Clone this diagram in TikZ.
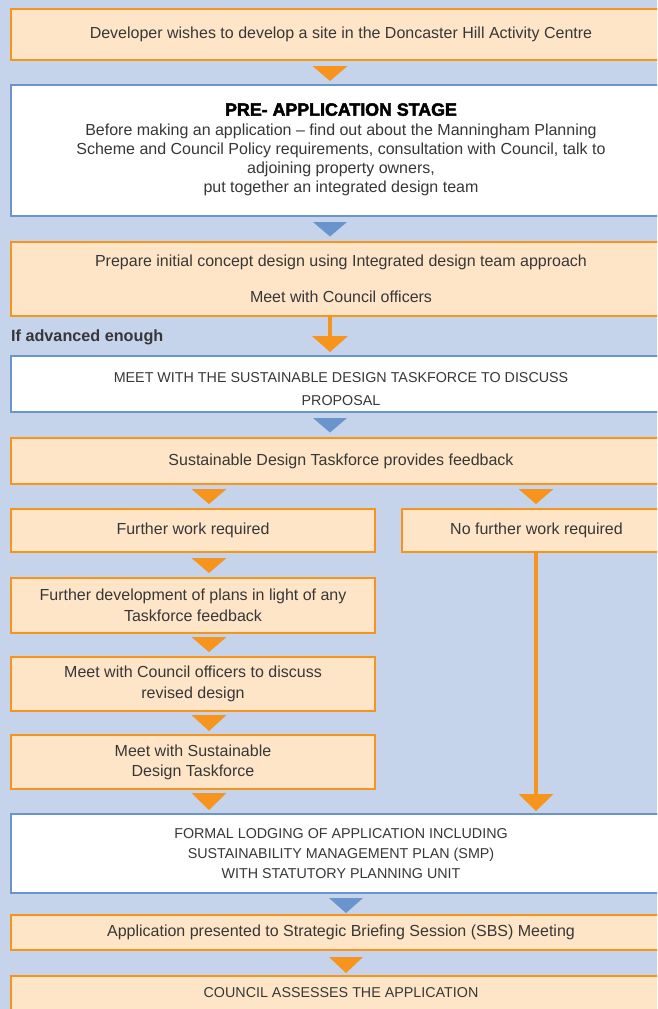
\documentclass[tikz,border=0pt]{standalone}
\usepackage{fontspec}
\setmainfont{Liberation Sans}
\newfontfamily\heavyfont{Liberation Sans}[FakeBold=2.5]
\usetikzlibrary{calc}
\definecolor{bgblue}{RGB}{197,211,235}
\definecolor{obord}{RGB}{247,148,29}
\definecolor{ofill}{RGB}{255,229,200}
\definecolor{bbord}{RGB}{106,149,204}
\definecolor{txt}{RGB}{55,55,55}
\begin{document}
\begin{tikzpicture}[x=1pt,y=-1pt,
  box/.style={draw, line width=2pt, anchor=north west, inner sep=0pt, text=txt, align=center,
    font=\fontsize{16}{19}\selectfont},
  obox/.style={box, draw=obord, fill=ofill},
  wbox/.style={box, draw=bbord, fill=white},
  capsfont/.style={font=\fontsize{14.3}{20}\selectfont},
  otri/.style={fill=obord},
  btri/.style={fill=bbord},
  stem/.style={draw=obord, line width=4.5pt},
]
\useasboundingbox (0,0) rectangle (657,1009);
\clip (0,0) rectangle (657,1009);
\fill[bgblue] (0,0) rectangle (657,1009);

% boxes
\node[obox, minimum width=660, minimum height=51] (b1) at (10,8)
  {Developer wishes to develop a site in the Doncaster Hill Activity Centre};
\node[wbox, minimum width=660, minimum height=131] (b2) at (10,84)
  {{\color{black}\fontsize{17.8}{22}\heavyfont\bfseries PRE- APPLICATION STAGE}\\[1pt]
   Before making an application – find out about the Manningham Planning\\
   Scheme and Council Policy requirements, consultation with Council, talk to\\
   adjoining property owners,\\
   put together an integrated design team\rule[-5pt]{0pt}{5pt}};
\node[obox, minimum width=660, minimum height=74] (b3) at (10,241)
  {Prepare initial concept design using Integrated design team approach\\[17pt]
   Meet with Council officers};
\node[anchor=base west, inner sep=0pt, text=txt, font=\fontsize{16.2}{19}\selectfont\bfseries] (lab) at (11,341)
  {If advanced enough};
\node[wbox, font=\fontsize{14.3}{23}\selectfont, minimum width=660, minimum height=56] (b4) at (10,355)
  {\rule{0pt}{20pt}MEET WITH THE SUSTAINABLE DESIGN TASKFORCE TO DISCUSS\\PROPOSAL};
\node[obox, minimum width=660, minimum height=46] (b5) at (10,437)
  {Sustainable Design Taskforce provides feedback};
\node[obox, minimum width=364, minimum height=43] (b6l) at (10,508)
  {Further work required};
\node[obox, minimum width=269, minimum height=43] (b6r) at (401,508)
  {No further work required};
\node[obox, font=\fontsize{16}{21}\selectfont, minimum width=364, minimum height=55] (b7) at (10,577)
  {Further development of plans in light of any\\Taskforce feedback};
\node[obox, font=\fontsize{16}{21}\selectfont, minimum width=364, minimum height=54] (b8) at (10,656)
  {Meet with Council officers to discuss\\revised design};
\node[obox, font=\fontsize{16}{20}\selectfont, minimum width=364, minimum height=54] (b9) at (10,734)
  {Meet with Sustainable\\Design Taskforce};
\node[wbox, capsfont, minimum width=660, minimum height=79] (b10) at (10,813)
  {FORMAL LODGING OF APPLICATION INCLUDING\\
   SUSTAINABILITY MANAGEMENT PLAN (SMP)\\
   WITH STATUTORY PLANNING UNIT};
\node[obox, minimum width=660, minimum height=35] (b11) at (10,914)
  {Application presented to Strategic Briefing Session (SBS) Meeting};
\node[obox, capsfont, minimum width=660, minimum height=34] (b12) at (10,975)
  {COUNCIL ASSESSES THE APPLICATION};

% arrow axes
\coordinate (ax) at (330,0);
\coordinate (lx) at (209,0);
\coordinate (rx) at (536,0);
\coordinate (lowx) at (346,0);

% b1 -> b2
\fill[otri] ($(b1.south -| ax)+(-17.5,5)$) -- ++(35,0) -- ++(-17.5,15) -- cycle;
% b2 -> b3
\fill[btri] ($(b2.south -| ax)+(-17,5)$) -- ++(34,0) -- ++(-17,14.5) -- cycle;
% b3 -> b4 with stem
\draw[stem] (b3.south -| ax) -- ($(b3.south -| ax)+(0,21)$) coordinate (s3);
\fill[otri] ($(s3)+(-18,-2)$) -- ++(36,0) -- ++(-18,16) -- cycle;
% b4 -> b5
\fill[btri] ($(b4.south -| ax)+(-17,5)$) -- ++(34,0) -- ++(-17,14.5) -- cycle;
% b5 -> b6l, b6r
\fill[otri] ($(b5.south -| lx)+(-17.5,4)$) -- ++(35,0) -- ++(-17.5,15) -- cycle;
\fill[otri] ($(b5.south -| rx)+(-17.5,4)$) -- ++(35,0) -- ++(-17.5,15) -- cycle;
% left column
\fill[otri] ($(b6l.south -| lx)+(-17.5,5)$) -- ++(35,0) -- ++(-17.5,15) -- cycle;
\fill[otri] ($(b7.south -| lx)+(-17.5,3)$) -- ++(35,0) -- ++(-17.5,15) -- cycle;
\fill[otri] ($(b8.south -| lx)+(-17.5,3)$) -- ++(35,0) -- ++(-17.5,16) -- cycle;
\fill[otri] ($(b9.south -| lx)+(-17.5,3)$) -- ++(35,0) -- ++(-17.5,17) -- cycle;
% right long connector
\draw[stem] (b6r.south -| rx) -- ($(b10.north -| rx)+(0,-18)$) coordinate (s6);
\fill[otri] ($(s6)+(-17.5,-1)$) -- ++(35,0) -- ++(-17.5,17) -- cycle;
% b10 -> b11
\fill[btri] ($(b10.south -| lowx)+(-17,4)$) -- ++(34,0) -- ++(-17,15) -- cycle;
% b11 -> b12
\fill[otri] ($(b11.south -| lowx)+(-17,6)$) -- ++(34,0) -- ++(-17,16) -- cycle;
\end{tikzpicture}
\end{document}
